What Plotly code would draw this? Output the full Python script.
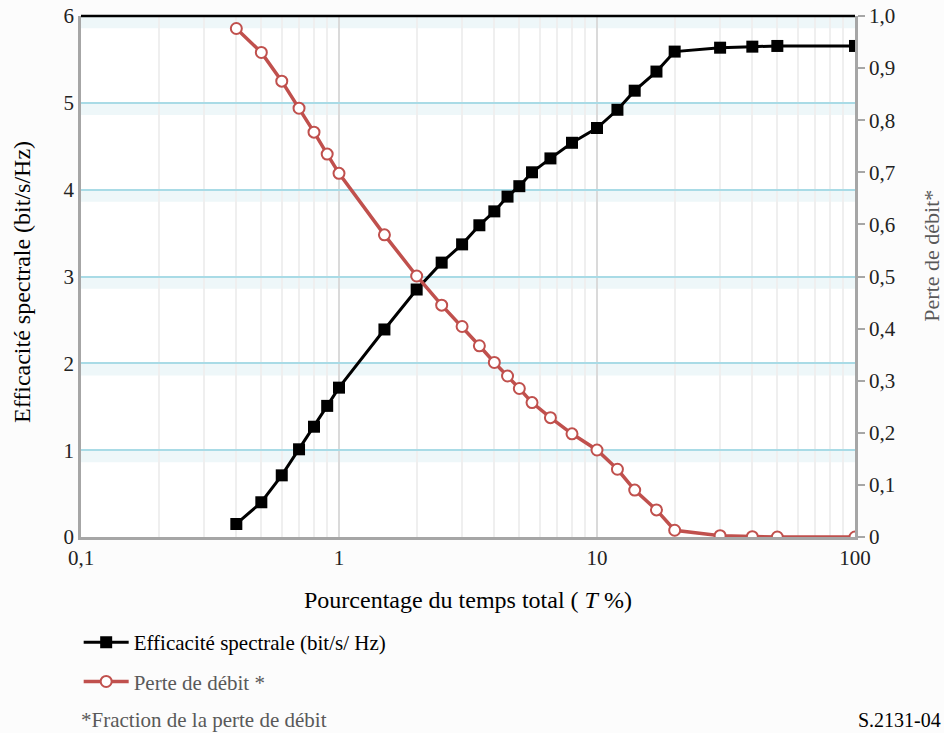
import plotly.graph_objects as go

# ---- data ----
pct_time = [0.4, 0.5, 0.6, 0.7, 0.8, 0.9, 1, 1.5, 2, 2.5, 3, 3.5, 4, 4.5, 5, 5.6, 6.6, 8, 10, 12, 14, 17, 20, 30, 40, 50, 100]
spectral_eff = [0.15, 0.40, 0.71, 1.01, 1.27, 1.51, 1.72, 2.39, 2.85, 3.16, 3.37, 3.59, 3.75, 3.92, 4.04, 4.20, 4.36, 4.54, 4.71, 4.92, 5.14, 5.36, 5.59, 5.635, 5.647, 5.655, 5.655]
throughput_loss = [0.976, 0.930, 0.875, 0.823, 0.777, 0.735, 0.698, 0.580, 0.501, 0.445, 0.404, 0.367, 0.335, 0.309, 0.285, 0.258, 0.229, 0.198, 0.167, 0.130, 0.090, 0.052, 0.013, 0.0025, 0.0006, 0.0, 0.0]

x_tickvals = [0.1, 1, 10, 100]
x_ticktext = ["0,1", "1", "10", "100"]
y_tickvals = [0, 1, 2, 3, 4, 5, 6]
y2_tickvals = [0, 0.1, 0.2, 0.3, 0.4, 0.5, 0.6, 0.7, 0.8, 0.9, 1.0]
y2_ticktext = ["0", "0,1", "0,2", "0,3", "0,4", "0,5", "0,6", "0,7", "0,8", "0,9", "1,0"]
band_levels = [1, 2, 3, 4, 5, 6]

FONT = "'Liberation Serif', 'Times New Roman', 'DejaVu Serif', serif"
GRAY = "#595959"
RED = "#c0504d"
AXIS = "#a6a6a6"
TICK = "#222222"

fig = go.Figure()
fig.add_trace(go.Scatter(
    x=pct_time, y=spectral_eff, mode="lines+markers",
    name="Efficacité spectrale (bit/s/ Hz)",
    line=dict(color="black", width=3),
    marker=dict(symbol="square", size=12, color="black"),
    legendgroup="a",
))
fig.add_trace(go.Scatter(
    x=pct_time, y=throughput_loss, mode="lines+markers", yaxis="y2",
    name="<span style='color:%s'>Perte de débit *</span>" % GRAY,
    line=dict(color=RED, width=3.5),
    marker=dict(symbol="circle", size=11, color="white", line=dict(color=RED, width=2)),
    legendgroup="b",
))

shapes = []
for v in band_levels:
    shapes.append(dict(type="rect", xref="paper", yref="y", x0=0, x1=1, y0=v - 0.14, y1=v,
                       fillcolor="#eef7f9", line=dict(width=0), layer="below"))
shapes.append(dict(type="line", xref="paper", yref="paper", x0=0, x1=1, y0=1, y1=1,
                   line=dict(color="black", width=2.5)))

annotations = [
    dict(text="Pourcentage du temps total ( <i>T</i> %)", xref="paper", yref="paper",
         x=0.5, y=-0.121, xanchor="center", yanchor="middle", showarrow=False,
         font=dict(family=FONT, size=24, color="black")),
    dict(text="Efficacité spectrale (bit/s/Hz)", xref="paper", yref="paper",
         x=(22 - 81) / 774, y=(537 - 282) / 521, xanchor="center", yanchor="middle",
         textangle=-90, showarrow=False,
         font=dict(family=FONT, size=24, color="black")),
    dict(text="Perte de débit*", xref="paper", yref="paper", x=(932 - 81) / 774, y=0.54,
         xanchor="center", yanchor="middle", textangle=-90, showarrow=False,
         font=dict(family=FONT, size=22, color=GRAY)),
    dict(text="*Fraction de la perte de débit", xref="paper", yref="paper",
         x=-0.002, y=(537 - 720) / 521, xanchor="left", yanchor="middle", showarrow=False,
         font=dict(family=FONT, size=21, color=GRAY)),
    dict(text="S.2131-04", xref="paper", yref="paper",
         x=(943 - 81) / 774, y=(537 - 720) / 521, xanchor="right", yanchor="middle", showarrow=False,
         font=dict(family=FONT, size=20, color="black")),
]

fig.update_layout(
    width=944, height=733,
    margin=dict(l=81, r=89, t=16, b=196, autoexpand=False),
    paper_bgcolor="#fcfcfc", plot_bgcolor="white",
    font=dict(family=FONT, size=21, color=TICK),
    showlegend=True,
    legend=dict(x=-0.003, y=(537 - 622) / 521, xanchor="left", yanchor="top",
                bgcolor="rgba(0,0,0,0)", font=dict(family=FONT, size=21, color="black"),
                tracegroupgap=9, traceorder="grouped", itemwidth=45),
    xaxis=dict(type="log", range=[-1, 2], tickvals=x_tickvals, ticktext=x_ticktext,
               showgrid=True, gridcolor="#dadada", gridwidth=2,
               minor=dict(dtick="D1", showgrid=True, gridcolor="#efefef", gridwidth=2, ticks=""),
               showline=True, linecolor=AXIS, linewidth=2.5, ticks="", zeroline=False,
               tickfont=dict(family=FONT, size=21, color=TICK)),
    yaxis=dict(range=[0, 6], tickvals=y_tickvals, showgrid=True, gridcolor="#a9dbe6", gridwidth=1.5,
               showline=True, linecolor=AXIS, linewidth=2.5, ticks="", zeroline=False,
               tickfont=dict(family=FONT, size=21, color=TICK)),
    yaxis2=dict(range=[0, 1], overlaying="y", side="right", tickvals=y2_tickvals, ticktext=y2_ticktext,
                showgrid=False, showline=True, linecolor=AXIS, linewidth=2.5,
                ticks="outside", ticklen=7, tickcolor=AXIS, tickwidth=2, zeroline=False,
                tickfont=dict(family=FONT, size=21, color=TICK)),
    shapes=shapes,
    annotations=annotations,
)

fig.write_html("out.html", config={"displayModeBar": False},
               post_script="document.body.style.margin='0';document.body.style.padding='0';"
                           "document.body.style.overflow='hidden';")
